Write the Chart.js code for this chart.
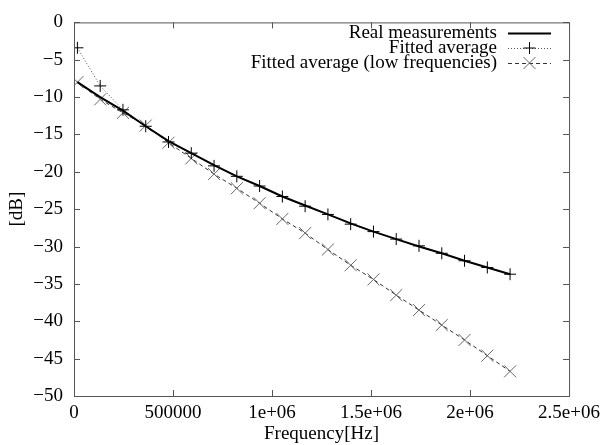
<!DOCTYPE html>
<html>
<head>
<meta charset="utf-8">
<script src="https://cdn.jsdelivr.net/npm/chart.js@4/dist/chart.umd.min.js"></script>
<style>
  html, body { margin: 0; padding: 0; background: #fff; }
  #wrap { width: 606px; height: 445px; position: relative; }
</style>
</head>
<body>
<div id="wrap"><canvas id="plot"></canvas></div>
<script>
'use strict';

// Frequencies of the sampled tones [Hz]
const freqs = [17250, 132250, 247250, 362250, 477250, 592250, 707250, 822250, 937250, 1052250,
               1167250, 1282250, 1397250, 1512250, 1627250, 1742250, 1857250, 1972250, 2087250, 2202250];

// Attenuation [dB]
const realDb = [-8.0, -10.0, -11.8, -13.9, -15.9, -17.5, -19.1, -20.6, -21.9, -23.3,
                -24.5, -25.7, -26.9, -28.0, -29.0, -30.0, -30.9, -31.9, -32.8, -33.7];
const fittedDb = [-3.4, -8.5, -11.7, -13.9, -16.0, -17.5, -19.2, -20.6, -21.9, -23.3,
                  -24.6, -25.7, -27.0, -28.0, -29.0, -29.9, -30.9, -31.9, -32.8, -33.7];
const fittedLowDb = [-8.0, -10.3, -12.1, -13.8, -16.1, -18.2, -20.3, -22.2, -24.2, -26.3,
                     -28.2, -30.4, -32.5, -34.4, -36.5, -38.5, -40.5, -42.5, -44.6, -46.7];

const seriesNames = ['Real measurements', 'Fitted average', 'Fitted average (low frequencies)'];
const xTickLabels = ['0', '500000', '1e+06', '1.5e+06', '2e+06', '2.5e+06'];

const FONT = 'Liberation Serif, Times New Roman, serif';

function points(ys) {
    return freqs.map((f, i) => ({ x: f, y: ys[i] }));
}

function drawMarker(ctx, style, x, y, r, color) {
    ctx.save();
    ctx.strokeStyle = color;
    ctx.lineWidth = 1;
    ctx.setLineDash([]);
    ctx.beginPath();
    if (style === 'cross') {
        ctx.moveTo(x - r, y); ctx.lineTo(x + r, y);
        ctx.moveTo(x, y - r); ctx.lineTo(x, y + r);
    } else if (style === 'crossRot') {
        const d = r * Math.SQRT1_2;
        ctx.moveTo(x - d, y - d); ctx.lineTo(x + d, y + d);
        ctx.moveTo(x - d, y + d); ctx.lineTo(x + d, y - d);
    }
    ctx.stroke();
    ctx.restore();
}

// Frame with inward tick marks on all four sides, plus the key in the top right corner
const framePlugin = {
    id: 'frame',
    afterDraw(chart) {
        const { ctx, chartArea: a, scales } = chart;
        const tick = 6;
        ctx.save();
        ctx.strokeStyle = '#555';
        ctx.lineWidth = 1;
        ctx.strokeRect(a.left + 0.5, a.top + 0.5, a.right - a.left, a.bottom - a.top);
        ctx.beginPath();
        scales.x.ticks.forEach(t => {
            const px = Math.round(scales.x.getPixelForValue(t.value)) + 0.5;
            ctx.moveTo(px, a.bottom); ctx.lineTo(px, a.bottom - tick);
            ctx.moveTo(px, a.top); ctx.lineTo(px, a.top + tick);
        });
        scales.y.ticks.forEach(t => {
            const py = Math.round(scales.y.getPixelForValue(t.value)) + 0.5;
            ctx.moveTo(a.left, py); ctx.lineTo(a.left + tick, py);
            ctx.moveTo(a.right, py); ctx.lineTo(a.right - tick, py);
        });
        ctx.stroke();

        // key
        const textRight = 497, sampleL = 508, sampleR = 551, rowTop = 33, rowStep = 15;
        ctx.font = '19px ' + FONT;
        ctx.fillStyle = '#000';
        ctx.textAlign = 'right';
        ctx.textBaseline = 'middle';
        chart.data.datasets.forEach((ds, i) => {
            const y = rowTop + i * rowStep;
            ctx.fillText(ds.label, textRight, y);
            ctx.save();
            ctx.strokeStyle = ds.borderColor;
            ctx.lineWidth = ds.borderWidth;
            ctx.setLineDash(ds.borderDash || []);
            ctx.beginPath();
            ctx.moveTo(sampleL, y + 0.5);
            ctx.lineTo(sampleR, y + 0.5);
            ctx.stroke();
            ctx.restore();
            if (ds.pointRadius > 0) {
                drawMarker(ctx, ds.pointStyle, (sampleL + sampleR) / 2, y, ds.pointRadius, ds.pointBorderColor);
            }
        });
        ctx.restore();
    }
};

const chart = new Chart(document.getElementById('plot'), {
    type: 'line',
    data: {
        datasets: [
            {
                label: seriesNames[0],
                data: points(realDb),
                borderColor: '#000',
                borderWidth: 2,
                pointRadius: 0,
                tension: 0
            },
            {
                label: seriesNames[1],
                data: points(fittedDb),
                borderColor: '#555',
                borderWidth: 1,
                borderDash: [1, 2],
                pointStyle: 'cross',
                pointRadius: 6,
                pointBorderColor: '#000',
                pointBorderWidth: 1,
                tension: 0
            },
            {
                label: seriesNames[2],
                data: points(fittedLowDb),
                borderColor: '#333',
                borderWidth: 1,
                borderDash: [4, 3],
                pointStyle: 'crossRot',
                pointRadius: 8.5,
                pointBorderColor: '#666',
                pointBorderWidth: 1,
                tension: 0
            }
        ]
    },
    options: {
        responsive: true,
        maintainAspectRatio: false,
        animation: false,
        layout: { padding: { top: 16, right: 36, left: 0, bottom: 0 } },
        plugins: {
            legend: { display: false },
            tooltip: { enabled: false }
        },
        scales: {
            x: {
                type: 'linear',
                min: 0,
                max: 2500000,
                afterFit(scale) { scale.height = 49; },
                grid: { display: false, drawTicks: false },
                border: { display: false },
                ticks: {
                    stepSize: 500000,
                    padding: 6,
                    maxRotation: 0,
                    autoSkip: false,
                    color: '#000',
                    font: { family: FONT, size: 19 },
                    callback: (v, i) => xTickLabels[i]
                },
                title: {
                    display: true,
                    text: 'Frequency[Hz]',
                    color: '#000',
                    font: { family: FONT, size: 19 },
                    padding: { top: 0, bottom: 0 }
                }
            },
            y: {
                min: -50,
                max: 0,
                afterFit(scale) { scale.width = 74; },
                grid: { display: false, drawTicks: false },
                border: { display: false },
                ticks: {
                    stepSize: 5,
                    padding: 11,
                    color: '#000',
                    font: { family: FONT, size: 19 },
                    callback: v => (v < 0 ? '\u2212' + Math.abs(v) : String(v))
                },
                title: {
                    display: true,
                    text: '[dB]',
                    color: '#000',
                    font: { family: FONT, size: 19 },
                    padding: { top: 6, bottom: 0 }
                }
            }
        }
    },
    plugins: [framePlugin]
});
</script>
</body>
</html>
